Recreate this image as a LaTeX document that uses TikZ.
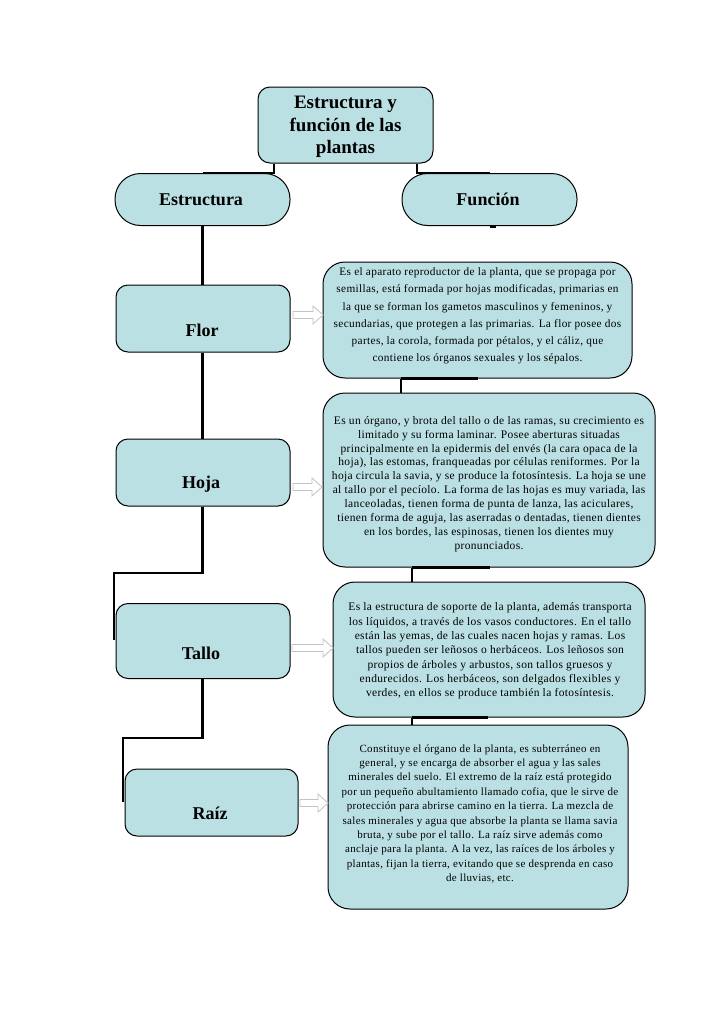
\documentclass[tikz,border=0pt]{standalone}
\usepackage{fontspec}
\setmainfont{Liberation Serif}
\newfontfamily\bodyfont[LetterSpace=3]{Liberation Serif}
\usetikzlibrary{calc}
\definecolor{boxfill}{RGB}{187,224,227}
\definecolor{arrgray}{RGB}{195,195,195}
\newcommand{\blockarrow}[2]{%
  \draw[blockarr] ($(#1)+(0,3.5)$) -- ($(#2)+(-10,3.5)$) -- ($(#2)+(-10,9)$) -- (#2)
    -- ($(#2)+(-10,-9)$) -- ($(#2)+(-10,-3.5)$) -- ($(#1)+(0,-3.5)$) -- cycle;}
\begin{document}
\begin{tikzpicture}[x=1pt,y=-1pt,
  box/.style={draw=black, line width=1pt, fill=boxfill, rounded corners=12pt, inner sep=0pt},
  pill/.style={draw=black, line width=1pt, fill=boxfill, rounded corners=25.5pt,
    minimum width=175pt, minimum height=52pt, inner sep=0pt},
  desc/.style={draw=black, line width=1pt, fill=boxfill, rounded corners=22pt, inner sep=0pt},
  lbl/.style={font=\fontsize{18}{20}\selectfont\bfseries, inner sep=0pt},
  body/.style={align=center, inner sep=0pt},
  conn/.style={line width=2.4pt},
  blockarr/.style={draw=arrgray, fill=white, line width=0.8pt}]
\useasboundingbox (0,0) rectangle (728,1031);

% title and first level
\node[box, minimum width=175pt, minimum height=76pt] (title) at (345.5,125) {};
\node[body, font=\fontsize{19}{22.5}\selectfont\bfseries] (titleT) at (345.5,127)
  {Estructura y\\función de las\\plantas};
\node[pill] (estr) at (202.5,199.5) {};
\node[lbl] (estrT) at (201,199.5) {Estructura};
\node[pill] (func) at (489.5,199.5) {};
\node[lbl] (funcT) at (488,199.5) {Función};

% left boxes
\node[box, minimum width=174pt, minimum height=67pt] (flor) at (203,318.5) {};
\node[lbl] (florT) at (202,330) {Flor};
\node[box, minimum width=174pt, minimum height=67pt] (hoja) at (203,472.5) {};
\node[lbl] (hojaT) at (201,484) {Hoja};
\node[box, minimum width=174pt, minimum height=75pt] (tallo) at (203,641) {};
\node[lbl] (talloT) at (201,653) {Tallo};
\node[box, minimum width=173pt, minimum height=67pt] (raiz) at (211.5,802.5) {};
\node[lbl] (raizT) at (210,813) {Raíz};

% right description boxes
\node[desc, minimum width=309pt, minimum height=116pt] (f1) at (477.5,320) {};
\node[body, font=\fontsize{11.3}{17.2}\bodyfont] (f1T) at (477.5,316)
  {Es el aparato reproductor de la planta, que se propaga por\\
   semillas, está formada por hojas modificadas, primarias en\\
   la que se forman los gametos masculinos y femeninos, y\\
   secundarias, que protegen a las primarias. La flor posee dos\\
   partes, la corola, formada por pétalos, y el cáliz, que\\
   contiene los órganos sexuales y los sépalos.};
\node[desc, minimum width=332pt, minimum height=174pt] (f2) at (489,480) {};
\node[body, font=\fontsize{11.5}{13.9}\bodyfont] (f2T) at (489,484)
  {Es un órgano, y brota del tallo o de las ramas, su crecimiento es\\
   limitado y su forma laminar. Posee aberturas situadas\\
   principalmente en la epidermis del envés (la cara opaca de la\\
   hoja), las estomas, franqueadas por células reniformes. Por la\\
   hoja circula la savia, y se produce la fotosíntesis. La hoja se une\\
   al tallo por el pecíolo. La forma de las hojas es muy variada, las\\
   lanceoladas, tienen forma de punta de lanza, las aciculares,\\
   tienen forma de aguja, las aserradas o dentadas, tienen dientes\\
   en los bordes, las espinosas, tienen los dientes muy\\
   pronunciados.};
\node[desc, minimum width=312pt, minimum height=135pt] (f3) at (489,649.5) {};
\node[body, font=\fontsize{11.5}{14.3}\bodyfont] (f3T) at (490,651)
  {Es la estructura de soporte de la planta, además transporta\\
   los líquidos, a través de los vasos conductores. En el tallo\\
   están las yemas, de las cuales nacen hojas y ramas. Los\\
   tallos pueden ser leñosos o herbáceos. Los leñosos son\\
   propios de árboles y arbustos, son tallos gruesos y\\
   endurecidos. Los herbáceos, son delgados flexibles y\\
   verdes, en ellos se produce también la fotosíntesis.};
\node[desc, minimum width=300pt, minimum height=184pt] (f4) at (478,817) {};
\node[body, font=\fontsize{11}{14.4}\bodyfont] (f4T) at (480,814)
  {Constituye el órgano de la planta, es subterráneo en\\
   general, y se encarga de absorber el agua y las sales\\
   minerales del suelo. El extremo de la raíz está protegido\\
   por un pequeño abultamiento llamado cofia, que le sirve de\\
   protección para abrirse camino en la tierra. La mezcla de\\
   sales minerales y agua que absorbe la planta se llama savia\\
   bruta, y sube por el tallo. La raíz sirve además como\\
   anclaje para la planta. A la vez, las raíces de los árboles y\\
   plantas, fijan la tierra, evitando que se desprenda en caso\\
   de lluvias, etc.};

% connectors
\draw[conn] (title.south -| 274,0) -- (estr.north -| 274,0) -- (estr.north);
\draw[conn] (title.south -| 417,0) -- (func.north -| 417,0) -- (func.north);
\draw[conn] ($(func.south)+(0,1)$) -- ++(6,0);
\draw[conn] (estr.south) -- (estr.south |- flor.north);
\draw[conn] (flor.south -| estr.south) -- (hoja.north -| estr.south);
\draw[conn] (hoja.south -| estr.south) -- (202.5,573) -- (114,573) -- (114,640);
\draw[conn] (tallo.south -| estr.south) -- (202.5,738) -- (123,738) -- (123,802);

\draw[conn] (f1.south -| 401,0) -- (f2.north -| 401,0);
\draw[conn] (f1.south -| 401,0) -- (f1.south -| 478,0);
\draw[conn] (f2.south -| 412,0) -- (f3.north -| 412,0);
\draw[conn] (f2.south -| 412,0) -- (f2.south -| 490,0);
\draw[conn] (f3.south -| 412,0) -- (f4.north -| 412,0);
\draw[conn] (f3.south -| 412,0) -- (f3.south -| 488,0);

% block arrows
\coordinate (a1s) at (293,315); \coordinate (a1e) at (323,315);
\coordinate (a2s) at (293,487); \coordinate (a2e) at (322,487);
\coordinate (a3s) at (292,648); \coordinate (a3e) at (333,648);
\coordinate (a4s) at (300,803); \coordinate (a4e) at (328,803);
\blockarrow{a1s}{a1e}
\blockarrow{a2s}{a2e}
\blockarrow{a3s}{a3e}
\blockarrow{a4s}{a4e}
\end{tikzpicture}
\end{document}
